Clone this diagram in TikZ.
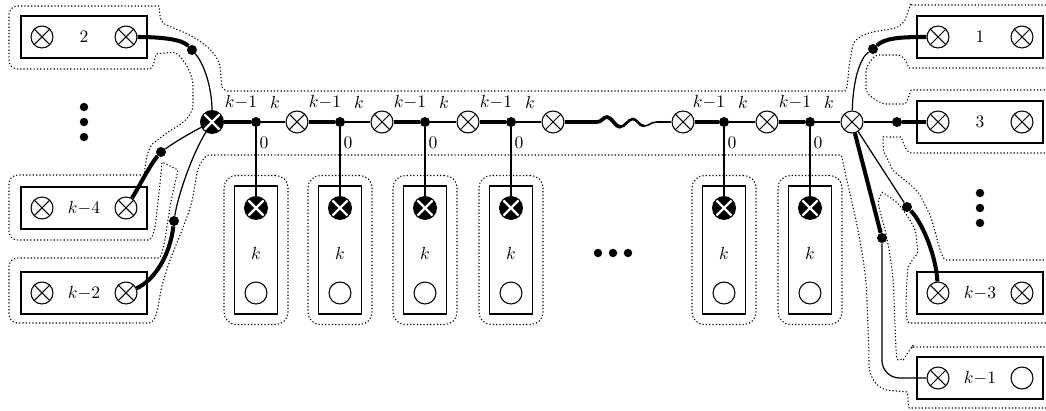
\documentclass[tikz,border=0pt]{standalone}
\usepackage{amsmath,amssymb}
\usepackage{xcolor}
\usepackage{tikz}
\usetikzlibrary{calc}

\tikzset{
  xcirc/.style={circle,draw,fill=white,line width=0.6pt,minimum size=12.5pt,inner sep=0pt,
    path picture={\draw[line width=0.6pt] (path picture bounding box.south west) -- (path picture bounding box.north east)
      (path picture bounding box.north west) -- (path picture bounding box.south east);}},
  xblack/.style={circle,draw,fill=black,line width=0.6pt,minimum size=13pt,inner sep=0pt,
    path picture={\draw[white,line width=1.3pt] (path picture bounding box.south west) -- (path picture bounding box.north east)
      (path picture bounding box.north west) -- (path picture bounding box.south east);}},
  ocirc/.style={circle,draw,fill=white,line width=0.6pt,minimum size=12.5pt,inner sep=0pt},
  jdot/.style={circle,fill=black,minimum size=5.7pt,inner sep=0pt},
  edot/.style={circle,fill=black,minimum size=4.8pt,inner sep=0pt},
  hbox/.style={draw,line width=0.8pt,minimum width=25.2mm,minimum height=8.4mm,inner sep=0pt},
  vbox/.style={draw,line width=0.8pt,minimum width=8.6mm,minimum height=25.6mm,inner sep=0pt},
  vzone/.style={draw,line width=0.6pt,dash pattern=on 0.7pt off 1.2pt,rounded corners=7pt,minimum width=12.8mm,minimum height=29.8mm,inner sep=0pt},
  zone/.style={line width=0.6pt,dash pattern=on 0.7pt off 1.2pt,rounded corners=5pt},
  heavy/.style={line width=2.3pt},
  light/.style={line width=0.7pt},
  lab/.style={inner sep=1pt},
}

\begin{document}
\begin{tikzpicture}[x=0.02cm,y=-0.02cm]
  \useasboundingbox (0,0) rectangle (1046,411);
  \clip (0,0) rectangle (1046,411);

  % outline of the whole gadget
  \draw[zone] (9,40) -- (9,6) -- (150,6)
    .. controls (160,6) and (158,21) .. (173,28)
    .. controls (198,38) and (219,52) .. (221,78)
    .. controls (222,88) and (226,91) .. (236,91)
    -- (836,91)
    .. controls (848,91) and (848,72) .. (851,55)
    .. controls (854,38) and (866,33) .. (885,30)
    .. controls (901,27) and (905,20) .. (908,12)
    .. controls (910,6) and (913,5) .. (920,5)
    -- (1060,5) -- (1060,68) -- (918,68)
    .. controls (908,68) and (906,55) .. (888,55)
    .. controls (872,55) and (866,68) .. (866,80)
    .. controls (866,95) and (880,104) .. (895,104)
    .. controls (908,104) and (910,90) .. (920,90)
    -- (1060,90) -- (1060,153) -- (920,153)
    .. controls (905,153) and (902,137) .. (892,137)
    .. controls (883,137) and (883,150) .. (888,160)
    .. controls (895,175) and (915,185) .. (925,205)
    .. controls (935,225) and (940,260) .. (955,260)
    -- (1060,260) -- (1060,323) -- (918,323)
    .. controls (905,323) and (906,300) .. (907,280)
    .. controls (908,262) and (918,255) .. (917,243)
    .. controls (915,225) and (900,205) .. (890,197)
    .. controls (882,192) and (877,200) .. (881,215)
    .. controls (888,240) and (893,270) .. (894,300)
    -- (896,350)
    .. controls (897,362) and (905,357) .. (908,352)
    .. controls (911,348) and (914,347) .. (920,347)
    -- (1060,347) -- (1060,408) -- (918,408)
    .. controls (908,408) and (908,392) .. (898,391)
    .. controls (880,390) and (869,380) .. (869,355)
    -- (867,300)
    .. controls (865,260) and (855,215) .. (848,185)
    .. controls (844,168) and (842,155) .. (832,155)
    -- (218,155)
    .. controls (205,155) and (198,165) .. (195,185)
    .. controls (190,215) and (175,245) .. (165,275)
    .. controls (158,300) and (158,323) .. (140,323)
    -- (9,323) -- (9,258) -- (150,258)
    .. controls (162,258) and (165,240) .. (168,220)
    .. controls (171,200) and (178,170) .. (170,166)
    .. controls (162,162) and (160,185) .. (157,210)
    .. controls (155,230) and (152,240) .. (140,240)
    -- (9,240) -- (9,175) -- (135,175)
    .. controls (145,175) and (145,150) .. (160,138)
    .. controls (175,127) and (193,120) .. (193,95)
    .. controls (193,70) and (178,52) .. (165,53)
    .. controls (155,54) and (155,69) .. (140,69)
    -- (9,69) -- cycle;

  % left boxes
  \node[hbox] (b2) at (84,37) {$2$};
  \node[xcirc] (b2l) at (42,37) {};
  \node[xcirc] (b2r) at (126,37) {};
  \node[hbox] (bk4) at (84,208) {$k{-}4$};
  \node[xcirc] (bk4l) at (42,208) {};
  \node[xcirc] (bk4r) at (126,208) {};
  \node[hbox] (bk2) at (84,293) {$k{-}2$};
  \node[xcirc] (bk2l) at (42,293) {};
  \node[xcirc] (bk2r) at (126,293) {};
  \foreach \y [count=\i] in {107,122,137}
    \node[edot] (lv\i) at (84,\y) {};

  % right boxes
  \node[hbox] (b1) at (980,37) {$1$};
  \node[xcirc] (b1l) at (938,37) {};
  \node[xcirc] (b1r) at (1022,37) {};
  \node[hbox] (b3) at (980,122) {$3$};
  \node[xcirc] (b3l) at (938,122) {};
  \node[xcirc] (b3r) at (1022,122) {};
  \node[hbox] (bk3) at (980,293) {$k{-}3$};
  \node[xcirc] (bk3l) at (938,293) {};
  \node[xcirc] (bk3r) at (1022,293) {};
  \node[hbox] (bk1) at (980,378) {$k{-}1$};
  \node[xcirc] (bk1l) at (938,378) {};
  \node[ocirc] (bk1r) at (1022,378) {};
  \foreach \y [count=\i] in {193,208,223}
    \node[edot] (rv\i) at (980,\y) {};

  % main chain
  \node[xblack] (hubL) at (212,122) {};
  \node[xcirc] (hubR) at (852,122) {};
  \foreach \n/\x in {1/297,2/382,3/468,4/553,5/683,6/767}
    \node[xcirc] (c\n) at (\x,122) {};

  \foreach \n/\x/\l/\r in {1/256/hubL/c1,2/340/c1/c2,3/425/c2/c3,4/511/c3/c4,5/724/c5/c6,6/810/c6/hubR}{
    \node[jdot] (d\n) at (\x,122) {};
    \node[lab] (dm\n) at (\x-15,102) {$k{-}1$};
    \node[lab] (dk\n) at (\x+19,102) {$k$};
    \node[lab] (dz\n) at (\x+8,143) {$0$};
    \node[vzone] (z\n) at (\x,250) {};
    \node[vbox] (v\n) at (\x,250) {};
    \node[xblack] (t\n) at (\x,208) {};
    \node[lab] (tk\n) at (\x,253) {$k$};
    \node[ocirc] (o\n) at (\x,293) {};
    \draw[heavy] (\l) -- (d\n);
    \draw[light] (d\n) -- (\r);
    \draw[light] (d\n) -- (t\n);
  }

  % the gap in the chain
  \coordinate (w1) at (597,122);
  \coordinate (w2) at (657,122);
  \draw[heavy] (c4) -- (w1);
  \draw[line width=2.1pt,line cap=round] (w1) .. controls (602,122) and (603,117) .. (607,117)
    .. controls (612,117) and (615,127) .. (620,127);
  \draw[line width=1.5pt,line cap=round] (620,127) .. controls (625,127) and (628,119) .. (633,119)
    .. controls (637,119) and (639,126) .. (644,126);
  \draw[line width=0.9pt,line cap=round] (644,126) .. controls (649,126) and (651,122) .. (w2);
  \draw[light] (w2) -- (c5);
  \foreach \x [count=\i] in {598,613,628}
    \node[edot] (hd\i) at (\x,253) {};

  % left connections
  \node[jdot] (e2) at (192,50) {};
  \node[jdot] (e4) at (161,152) {};
  \node[jdot] (e6) at (174,221) {};
  \draw[heavy] (b2r) .. controls (165,37) and (183,40) .. (e2);
  \draw[light] (e2) .. controls (205,65) and (212,90) .. (hubL);
  \draw[heavy] (bk4r) .. controls (140,185) and (150,165) .. (e4);
  \draw[light] (e4) .. controls (175,142) and (192,132) .. (hubL);
  \draw[heavy] (bk2r) .. controls (155,280) and (170,255) .. (e6);
  \draw[light] (e6) .. controls (178,195) and (192,155) .. (hubL);

  % right connections
  \node[jdot] (f1) at (873,49) {};
  \node[jdot] (f3) at (897,122) {};
  \node[jdot] (f5) at (907,207) {};
  \node[jdot] (f7) at (882,238) {};
  \draw[light] (hubR) .. controls (853,80) and (860,58) .. (f1);
  \draw[heavy] (f1) .. controls (885,38) and (900,37) .. (b1l);
  \draw[light] (hubR) -- (f3);
  \draw[heavy] (f3) -- (b3l);
  \draw[light] (hubR) -- (f5);
  \draw[heavy] (f5) .. controls (922,222) and (936,255) .. (bk3l);
  \draw[heavy] (hubR) -- (f7);
  \draw[light,rounded corners=10pt] (f7) |- (bk1l);
\end{tikzpicture}
\end{document}
